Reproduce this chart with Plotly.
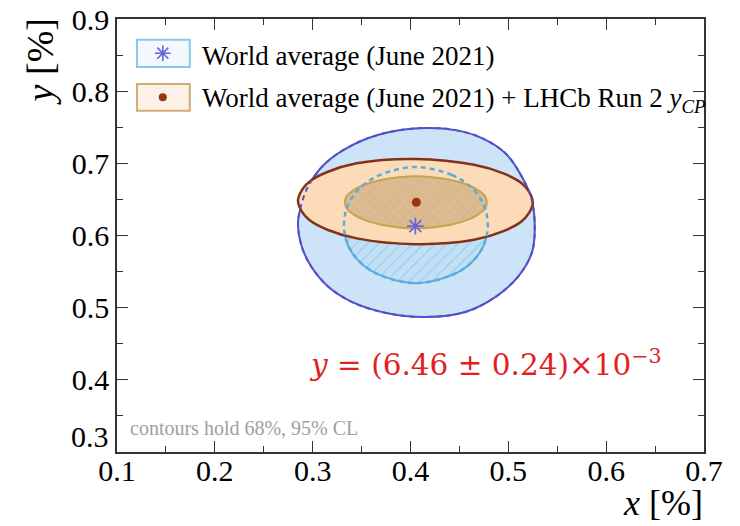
import plotly.graph_objects as go

# ---- data (x, y in %) ----
# World average, 95% CL contour
wa95_x = [0.415, 0.446, 0.473, 0.497, 0.514, 0.524, 0.527, 0.524, 0.510, 0.487, 0.456, 0.415,
          0.374, 0.340, 0.316, 0.299, 0.289, 0.285, 0.287, 0.295, 0.313, 0.340, 0.374, 0.415]
wa95_y = [0.749, 0.746, 0.735, 0.714, 0.681, 0.649, 0.608, 0.576, 0.543, 0.515, 0.494, 0.487,
          0.493, 0.508, 0.529, 0.556, 0.584, 0.617, 0.635, 0.667, 0.700, 0.725, 0.742, 0.749]

# World average, 68% CL contour
wa68_x = [0.405, 0.442, 0.461, 0.472, 0.477, 0.479, 0.477, 0.472, 0.461, 0.442, 0.405,
          0.369, 0.350, 0.339, 0.334, 0.332, 0.334, 0.339, 0.350, 0.369, 0.405]
wa68_y = [0.695, 0.684, 0.668, 0.650, 0.634, 0.614, 0.595, 0.579, 0.561, 0.545, 0.534,
          0.545, 0.561, 0.579, 0.595, 0.614, 0.634, 0.650, 0.668, 0.684, 0.695]

# WA + LHCb yCP, 95% CL contour
comb95_x = [0.405, 0.465, 0.495, 0.513, 0.521, 0.525, 0.521, 0.513, 0.495, 0.465, 0.405,
            0.345, 0.315, 0.297, 0.289, 0.285, 0.289, 0.297, 0.315, 0.345, 0.405]
comb95_y = [0.706, 0.698, 0.686, 0.673, 0.661, 0.645, 0.631, 0.619, 0.606, 0.594, 0.588,
            0.596, 0.608, 0.621, 0.633, 0.648, 0.663, 0.675, 0.688, 0.700, 0.706]

# WA + LHCb yCP, 68% CL contour
comb68_x = [0.405, 0.441, 0.459, 0.470, 0.476, 0.478, 0.476, 0.470, 0.459, 0.441, 0.405,
            0.370, 0.352, 0.341, 0.335, 0.333, 0.335, 0.341, 0.352, 0.370, 0.405]
comb68_y = [0.682, 0.677, 0.670, 0.662, 0.655, 0.646, 0.637, 0.630, 0.622, 0.615, 0.610,
            0.615, 0.622, 0.630, 0.637, 0.646, 0.655, 0.662, 0.670, 0.677, 0.682]

wa_best = (0.405, 0.613)
comb_best = (0.406, 0.646)

x_ticks = [0.1, 0.2, 0.3, 0.4, 0.5, 0.6, 0.7]
y_ticks = [0.3, 0.4, 0.5, 0.6, 0.7, 0.8, 0.9]
# the lowest y label is drawn slightly raised (as in the reference), so it is placed separately
y_ticktext = ["", "0.4", "0.5", "0.6", "0.7", "0.8", "0.9"]
y_low_label = "0.3"

legend_labels = ["World average (June 2021)",
                 "World average (June 2021) + LHCb Run 2 <i>y</i><sub><i>CP</i></sub>"]

SERIF = "Liberation Serif, Times New Roman, serif"
STAR_COL = "#6565dc"
DOT_COL = "#983612"
SMOOTH = 1.0

fig = go.Figure()

# WA 95%
fig.add_trace(go.Scatter(x=wa95_x, y=wa95_y, mode="lines", fill="toself",
                         fillcolor="#cde3f7",
                         line=dict(color="#5252c8", width=2, shape="spline", smoothing=SMOOTH),
                         hoverinfo="skip", showlegend=False))
# WA 68%
fig.add_trace(go.Scatter(x=wa68_x, y=wa68_y, mode="lines", fill="toself",
                         fillcolor="#c2e0f5",
                         fillpattern=dict(shape="/", bgcolor="#c2e0f5", fgcolor="#80bae2",
                                          size=8, solidity=0.18),
                         line=dict(color="#58aedc", width=2, shape="spline", smoothing=SMOOTH),
                         hoverinfo="skip", showlegend=False))
# combined 95%
fig.add_trace(go.Scatter(x=comb95_x, y=comb95_y, mode="lines", fill="toself",
                         fillcolor="#fcdcb8",
                         line=dict(color="#82321a", width=2.5, shape="spline", smoothing=SMOOTH),
                         hoverinfo="skip", showlegend=False))
# combined 68%
fig.add_trace(go.Scatter(x=comb68_x, y=comb68_y, mode="lines", fill="toself",
                         fillcolor="#dcb98f",
                         fillpattern=dict(shape="x", bgcolor="#ddbb92", fgcolor="#c99f6e",
                                          size=7, solidity=0.15),
                         line=dict(color="#c9a24e", width=2, shape="spline", smoothing=SMOOTH),
                         hoverinfo="skip", showlegend=False))
# dashed WA contours on top
fig.add_trace(go.Scatter(x=wa95_x, y=wa95_y, mode="lines",
                         line=dict(color="#5252c8", width=2, dash="5px,4px", shape="spline",
                                   smoothing=SMOOTH),
                         hoverinfo="skip", showlegend=False))
fig.add_trace(go.Scatter(x=wa68_x, y=wa68_y, mode="lines",
                         line=dict(color="#58aedc", width=2.5, dash="5px,4px", shape="spline",
                                   smoothing=SMOOTH),
                         hoverinfo="skip", showlegend=False))
# best fit points
fig.add_trace(go.Scatter(x=[wa_best[0]], y=[wa_best[1]], mode="markers",
                         marker=dict(symbol="asterisk-open", size=14, color=STAR_COL,
                                     line=dict(color=STAR_COL, width=1.6)),
                         hoverinfo="skip", showlegend=False))
fig.add_trace(go.Scatter(x=[comb_best[0]], y=[comb_best[1]], mode="markers",
                         marker=dict(symbol="circle", size=9, color=DOT_COL),
                         hoverinfo="skip", showlegend=False))

# legend markers on an overlay axis spanning the plot area
fig.add_trace(go.Scatter(x=[0.078], y=[0.921], xaxis="x2", yaxis="y2", mode="markers",
                         marker=dict(symbol="asterisk-open", size=13, color=STAR_COL,
                                     line=dict(color=STAR_COL, width=1.6)),
                         hoverinfo="skip", showlegend=False))
fig.add_trace(go.Scatter(x=[0.078], y=[0.819], xaxis="x2", yaxis="y2", mode="markers",
                         marker=dict(symbol="circle", size=8, color=DOT_COL),
                         hoverinfo="skip", showlegend=False))

shapes = [
    dict(type="rect", xref="paper", yref="paper", x0=0.034, x1=0.124, y0=0.889, y1=0.952,
         fillcolor="#f3f8fd", line=dict(color="#8cc6ec", width=2), layer="below"),
    dict(type="rect", xref="paper", yref="paper", x0=0.034, x1=0.124, y0=0.788, y1=0.850,
         fillcolor="#fbf1e6", line=dict(color="#d4ab72", width=2), layer="below"),
]

annotations = [
    dict(text=legend_labels[0], xref="paper", yref="paper", x=0.141, y=0.914,
         xanchor="left", yanchor="middle", showarrow=False,
         font=dict(family=SERIF, size=27, color="black")),
    dict(text=legend_labels[1], xref="paper", yref="paper", x=0.141, y=0.812,
         xanchor="left", yanchor="middle", showarrow=False,
         font=dict(family=SERIF, size=27, color="black")),
    dict(text="contours hold 68%, 95% CL", xref="paper", yref="paper", x=0.019, y=0.055,
         xanchor="left", yanchor="middle", showarrow=False,
         font=dict(family=SERIF, size=20, color="#a0a0a0")),
    dict(text="<i>y</i> = (6.46 ± 0.24)×10<sup>−3</sup>", xref="paper", yref="paper",
         x=0.323, y=0.206, xanchor="left", yanchor="middle", showarrow=False,
         font=dict(family="DejaVu Serif, serif", size=29.5, color="#e21f1f")),
    dict(text="<i>y</i> [%]", xref="paper", yref="paper", x=-0.131, y=0.90,
         xanchor="center", yanchor="middle", textangle=-90, showarrow=False,
         font=dict(family=SERIF, size=38, color="black")),
    dict(text="<i>x</i> [%]", xref="paper", yref="paper", x=1.002, y=-0.117,
         xanchor="right", yanchor="middle", showarrow=False,
         font=dict(family=SERIF, size=36, color="black")),
    dict(text=y_low_label, xref="paper", yref="y", x=-0.011, y=y_ticks[0] + 0.021,
         xanchor="right", yanchor="middle", showarrow=False,
         font=dict(family=SERIF, size=30, color="black")),
]

axis_common = dict(showgrid=False, zeroline=False, showline=True, linecolor="#333333",
                   linewidth=1.5, mirror="ticks", ticks="inside", ticklen=11, tickwidth=1.2,
                   tickcolor="#333333", automargin=False,
                   tickfont=dict(family=SERIF, size=30, color="black"))

fig.update_layout(
    width=740, height=526, autosize=False,
    margin=dict(l=117, r=36, t=19, b=74),
    paper_bgcolor="white", plot_bgcolor="white",
    xaxis=dict(range=[0.1, 0.7], tickvals=x_ticks, ticktext=[f"{v:.1f}" for v in x_ticks],
               minor=dict(dtick=0.05, ticklen=6, ticks="inside", tickcolor="#333333"),
               ticklabelstandoff=-9,
               **axis_common),
    yaxis=dict(range=[0.3, 0.9], tickvals=y_ticks, ticktext=y_ticktext,
               minor=dict(dtick=0.05, ticklen=6, ticks="inside", tickcolor="#333333"),
               **axis_common),
    xaxis2=dict(overlaying="x", range=[0, 1], visible=False),
    yaxis2=dict(overlaying="y", range=[0, 1], visible=False),
    shapes=shapes, annotations=annotations,
)

fig.write_html("out.html", config={"displayModeBar": False},
               post_script="document.body.style.margin='0';document.body.style.overflow='hidden';")
